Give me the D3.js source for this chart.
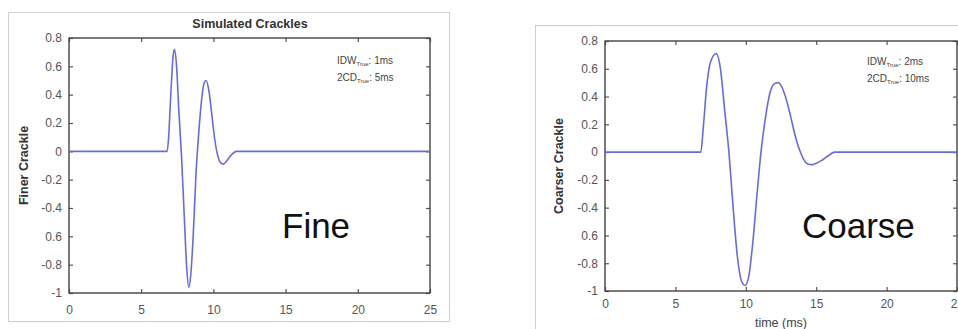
<!DOCTYPE html>
<html>
<head>
<meta charset="utf-8">
<script src="https://cdn.jsdelivr.net/npm/d3@7"></script>
<style>
  body { margin: 0; background: #fff; }
  svg { display: block; }
</style>
</head>
<body>
<div id="chart"></div>
<script>
// time (ms) and amplitude
var fineT = [0, 6.8, 6.9, 7.0, 7.1, 7.2, 7.3, 7.45, 7.6, 7.8, 8.0, 8.15, 8.3, 8.45, 8.6, 8.8, 9.0, 9.2, 9.35, 9.5, 9.7, 9.9, 10.1, 10.3, 10.5, 10.7, 10.9, 11.2, 11.6, 25];
var fineY = [0, 0, 0.1, 0.3, 0.5, 0.66, 0.72, 0.6, 0.3, -0.05, -0.5, -0.82, -0.96, -0.85, -0.6, -0.15, 0.15, 0.38, 0.48, 0.5, 0.42, 0.25, 0.08, -0.03, -0.08, -0.09, -0.07, -0.03, 0, 0];

var coarseT = [0, 6.8, 7.0, 7.2, 7.5, 7.9, 8.2, 8.5, 8.8, 9.1, 9.4, 9.7, 9.95, 10.2, 10.5, 10.8, 11.1, 11.4, 11.7, 12.0, 12.3, 12.6, 12.9, 13.2, 13.5, 13.8, 14.1, 14.4, 14.7, 15.0, 15.4, 15.8, 16.3, 25];
var coarseY = [0, 0, 0.2, 0.45, 0.65, 0.71, 0.6, 0.3, 0.0, -0.4, -0.75, -0.93, -0.96, -0.9, -0.65, -0.3, 0.02, 0.25, 0.42, 0.49, 0.5, 0.46, 0.37, 0.25, 0.12, 0.02, -0.05, -0.085, -0.09, -0.08, -0.06, -0.03, 0, 0];

var xTicks = [0, 5, 10, 15, 20, 25];
var yTicks = [0.8, 0.6, 0.4, 0.2, 0, -0.2, -0.4, -0.6, -0.8, -1];
var yTickLabels = ["0.8", "0.6", "0.4", "0.2", "0", "-0.2", "-0.4", "0.6", "-0.8", "-1"];

var W = 958, H = 329;
var svg = d3.select("#chart").append("svg")
    .attr("width", W)
    .attr("height", H)
    .style("font-family", "'Liberation Sans', Arial, sans-serif");

// outer figure frames
svg.append("rect").attr("x", 8.5).attr("y", 12.5).attr("width", 441).attr("height", 309)
    .attr("fill", "none").attr("stroke", "#cfcfcf");
svg.append("rect").attr("x", 535.5).attr("y", 25.5).attr("width", 440).attr("height", 320)
    .attr("fill", "none").attr("stroke", "#cfcfcf");

function panel(opt) {
    var x = d3.scaleLinear().domain([0, 25]).range([opt.left, opt.right]);
    var y = d3.scaleLinear().domain([-1, 0.8]).range([opt.bottom, opt.top]);
    var g = svg.append("g");

    var fmt = function(d) { return yTickLabels[yTicks.indexOf(d)]; };

    var bottom = g.append("g").attr("transform", "translate(0," + opt.bottom + ")")
        .call(d3.axisBottom(x).tickValues(xTicks).tickSizeInner(-4).tickSizeOuter(0).tickPadding(opt.xPad));
    var top = g.append("g").attr("transform", "translate(0," + opt.top + ")")
        .call(d3.axisTop(x).tickValues(xTicks).tickSizeInner(-4).tickSizeOuter(0).tickFormat(""));
    var left = g.append("g").attr("transform", "translate(" + opt.left + ",0)")
        .call(d3.axisLeft(y).tickValues(yTicks).tickSizeInner(-4).tickSizeOuter(0).tickPadding(7).tickFormat(fmt));
    var right = g.append("g").attr("transform", "translate(" + opt.right + ",0)")
        .call(d3.axisRight(y).tickValues(yTicks).tickSizeInner(-4).tickSizeOuter(0).tickFormat(""));

    [bottom, top, left, right].forEach(function(a) {
        a.select(".domain").remove();
        a.selectAll(".tick line").attr("stroke", "#555").attr("stroke-width", 1.2);
        a.selectAll("text").attr("fill", "#555").attr("font-size", "12px")
            .attr("font-family", "'Liberation Sans', Arial, sans-serif");
    });

    g.append("rect")
        .attr("x", opt.left).attr("y", opt.top)
        .attr("width", opt.right - opt.left).attr("height", opt.bottom - opt.top)
        .attr("fill", "none").attr("stroke", "#444").attr("stroke-width", 1.4);

    var pts = opt.t.map(function(t, i) { return [t, opt.v[i]]; });
    var line = d3.line()
        .x(function(d) { return x(d[0]); })
        .y(function(d) { return y(d[1]); })
        .curve(d3.curveMonotoneX);

    g.append("path").datum(pts)
        .attr("d", line)
        .attr("fill", "none")
        .attr("stroke", "#6a6ae0")
        .attr("stroke-width", 1.6);

    // y label
    g.append("text")
        .attr("transform", "translate(" + opt.yLabX + "," + ((opt.top + opt.bottom) / 2) + ") rotate(-90)")
        .attr("text-anchor", "middle")
        .attr("dy", "0.35em")
        .attr("font-size", "12.5px")
        .attr("font-weight", "bold")
        .attr("fill", "#333")
        .text(opt.yLabel);

    // annotation
    var ann = g.append("g").attr("fill", "#444").attr("font-size", "10px");
    [["IDW", opt.idw], ["2CD", opt.cd]].forEach(function(r, i) {
        var t = ann.append("text").attr("x", opt.annX).attr("y", opt.annY + i * 16.5);
        t.append("tspan").text(r[0]);
        t.append("tspan").attr("font-size", "6px").attr("dy", "2").text("True");
        t.append("tspan").attr("dy", "-2").text(": " + r[1]);
    });

    g.append("text")
        .attr("x", opt.bigX).attr("y", 238)
        .attr("font-size", "35px")
        .attr("fill", "#111")
        .text(opt.big);

    return { x: x, y: y, g: g };
}

var p1 = panel({
    left: 69, right: 430, top: 38, bottom: 293, xPad: 12,
    t: fineT, v: fineY,
    yLabel: "Finer Crackle", yLabX: 24,
    annX: 337, annY: 64, idw: "1ms", cd: "5ms",
    big: "Fine", bigX: 282
});

svg.append("text")
    .attr("x", 250).attr("y", 28)
    .attr("text-anchor", "middle")
    .attr("font-size", "12.5px")
    .attr("font-weight", "bold")
    .attr("fill", "#333")
    .text("Simulated Crackles");

var p2 = panel({
    left: 605, right: 957, top: 41, bottom: 291, xPad: 8,
    t: coarseT, v: coarseY,
    yLabel: "Coarser Crackle", yLabX: 559,
    annX: 867, annY: 65, idw: "2ms", cd: "10ms",
    big: "Coarse", bigX: 802
});

svg.append("text")
    .attr("x", 781).attr("y", 327)
    .attr("text-anchor", "middle")
    .attr("font-size", "12.5px")
    .attr("fill", "#444")
    .text("time (ms)");
</script>
</body>
</html>
